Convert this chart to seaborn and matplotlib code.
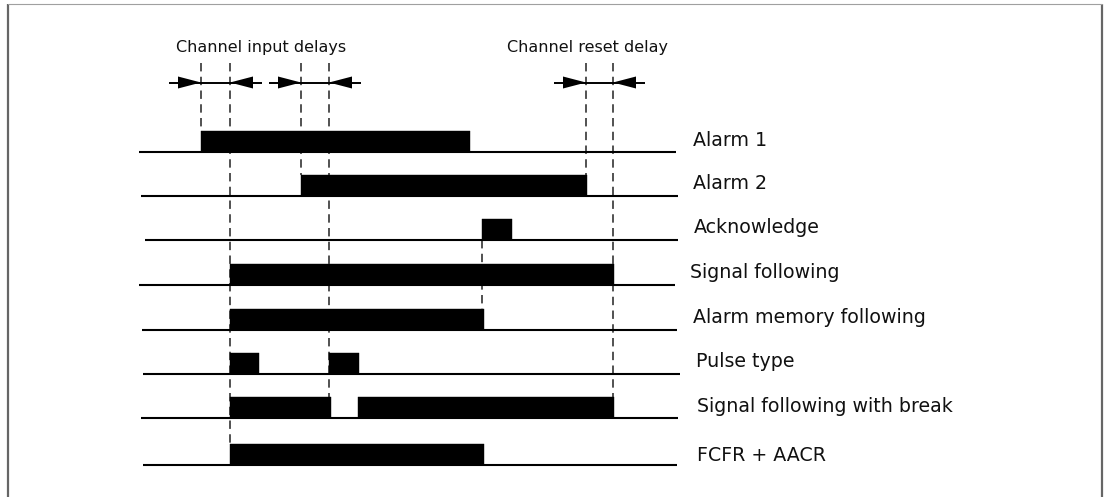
import matplotlib
matplotlib.use("Agg")
import matplotlib.pyplot as plt
import seaborn as sns

sns.set_theme(style="white")
plt.rcParams["font.family"] = ["DejaVu Sans"]

# ---- data (time positions along the horizontal time axis) ----
signals = ["Alarm 1", "Alarm 2", "Acknowledge", "Signal following",
           "Alarm memory following", "Pulse type",
           "Signal following with break", "FCFR + AACR"]
alarm1 = [(201, 470)]
alarm2 = [(301, 587)]
acknowledge = [(482, 512)]
signal_following = [(230, 614)]
memory_following = [(230, 484)]
pulse_type = [(230, 259), (329, 359)]
following_break = [(230, 331), (358, 614)]
fcfr_aacr = [(230, 484)]
states = [alarm1, alarm2, acknowledge, signal_following, memory_following,
          pulse_type, following_break, fcfr_aacr]

# delay intervals (start, end) in time
input_delays = [(201, 230), (301, 329)]
reset_delay = [(586, 613)]
top_titles = ["Channel input delays", "Channel reset delay"]

# ---- layout / style ----
row_base = [152, 196, 240, 285, 330, 374, 418, 465]
line_start = [139, 141, 145, 139, 142, 143, 141, 143]
line_end = [676, 678, 678, 675, 677, 680, 678, 677]
label_x = [693, 693, 694, 690, 693, 696, 697, 697]
label_base = [146, 189, 233, 278, 323, 367, 412, 461]
bar_h = 21
arrow_y = 82.5

fig = plt.figure(figsize=(11.11, 4.97), dpi=100)
ax = fig.add_axes([0, 0, 1, 1])
ax.set_xlim(0, 1111)
ax.set_ylim(497, 0)
ax.axis("off")

# frame
ax.plot([7.5, 7.5], [3.5, 500], color="#666666", lw=1.6, solid_capstyle="butt")
ax.plot([1102, 1102], [3.5, 500], color="#666666", lw=1.6, solid_capstyle="butt")
ax.plot([7.5, 1102], [3.5, 3.5], color="#a0a0a0", lw=0.8)

# baselines, bars and labels
for i, name in enumerate(signals):
    yb = row_base[i]
    ax.plot([line_start[i], line_end[i]], [yb, yb], color="black", lw=1.5,
            solid_capstyle="butt", zorder=3)
    segs = [(s, e - s) for s, e in states[i]]
    ax.broken_barh(segs, (yb - bar_h, bar_h), facecolors="black",
                   edgecolors="black", linewidth=0.3, zorder=4)
    ax.text(label_x[i], label_base[i], name, fontsize=13.7, va="baseline",
            ha="left", color="#111111")

# dashed guide lines (x, y_top, y_bottom)
guides = [(alarm1[0][0], 63, row_base[0] - bar_h),
          (signal_following[0][0], 63, row_base[7] - bar_h),
          (alarm2[0][0], 63, row_base[1] - bar_h),
          (input_delays[1][1], 63, row_base[6] - bar_h),
          (acknowledge[0][0], row_base[2], row_base[4] - bar_h),
          (reset_delay[0][0], 63, row_base[1] - bar_h),
          (reset_delay[0][1], 63, row_base[6] - bar_h)]
for x, y0, y1 in guides:
    ax.plot([x, x], [y0, y1], color="#222222", lw=1.1, dashes=(5.5, 3.5),
            zorder=2)

# delay arrows
def delay_arrow(a, b):
    hl, hw, tail = 23, 6, 9
    ax.plot([a - hl - tail, b + hl + tail], [arrow_y, arrow_y], color="black",
            lw=1.4, solid_capstyle="butt", zorder=3)
    ax.fill([a - hl, a, a - hl], [arrow_y - hw, arrow_y, arrow_y + hw],
            color="black", lw=0, zorder=4)
    ax.fill([b + hl, b, b + hl], [arrow_y - hw, arrow_y, arrow_y + hw],
            color="black", lw=0, zorder=4)

for a, b in input_delays + reset_delay:
    delay_arrow(a, b)

ax.text(176, 52, top_titles[0], fontsize=11.55, va="baseline", ha="left",
        color="#111111")
ax.text(507, 52, top_titles[1], fontsize=11.55, va="baseline", ha="left",
        color="#111111")

fig.savefig("out.png", dpi=100)
